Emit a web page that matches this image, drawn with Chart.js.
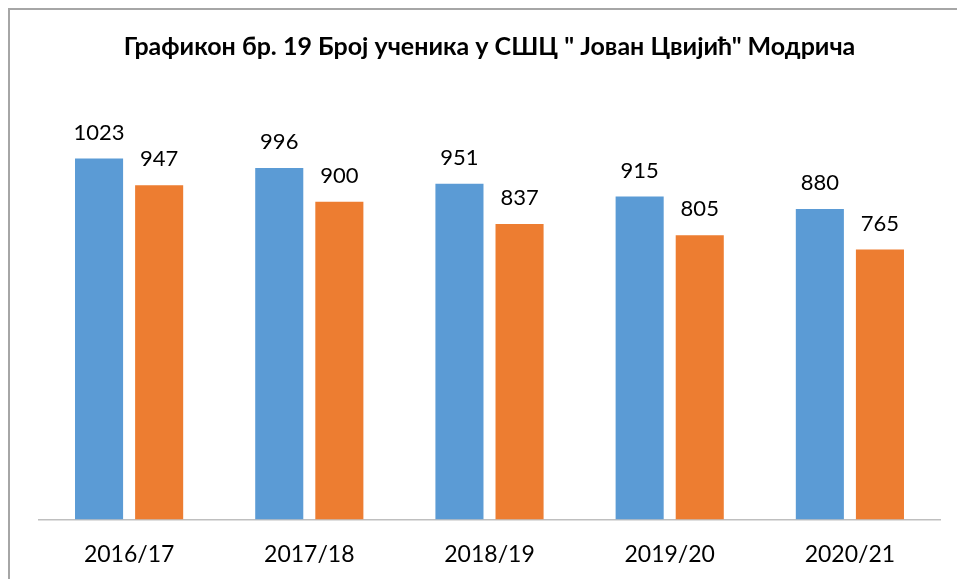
<!DOCTYPE html>
<html>
<head>
<meta charset="utf-8">
<script src="https://cdn.jsdelivr.net/npm/chart.js@4.4.0/dist/chart.umd.min.js"></script>
<style>
  html, body { margin: 0; padding: 0; background: #fff; overflow: hidden; }
  #frame {
    position: absolute; left: 8px; top: 8px;
    width: 949px; height: 571px;
    border-left: 2px solid #a6a6a6;
    border-top: 2px solid #a6a6a6;
    overflow: hidden;
  }
  #chart { display: block; }
</style>
</head>
<body>
<div id="frame"><canvas id="chart" width="947" height="594"></canvas></div>
<script>
// Chart data
const years = ['2016/17', '2017/18', '2018/19', '2019/20', '2020/21'];
const seriesA = [1023, 996, 951, 915, 880];
const seriesB = [947, 900, 837, 805, 765];
const chartTitle = 'Графикон бр. 19 Број ученика у СШЦ " Јован Цвијић" Модрича';

// Draw the value above each bar
const valueLabels = {
  id: 'valueLabels',
  afterDatasetsDraw(chart) {
    const ctx = chart.ctx;
    ctx.save();
    ctx.font = '22px Lato, "Open Sans", sans-serif';
    ctx.fillStyle = '#000000';
    ctx.textAlign = 'center';
    ctx.textBaseline = 'middle';
    chart.data.datasets.forEach((ds, i) => {
      chart.getDatasetMeta(i).data.forEach((bar, j) => {
        ctx.fillText(ds.data[j], bar.x, bar.y - 26);
      });
    });
    ctx.restore();
  }
};

new Chart(document.getElementById('chart'), {
  type: 'bar',
  data: {
    labels: years,
    datasets: [
      {
        label: 'A',
        data: seriesA,
        backgroundColor: '#5b9bd5',
        categoryPercentage: 0.667,
        barPercentage: 0.8
      },
      {
        label: 'B',
        data: seriesB,
        backgroundColor: '#ed7d31',
        categoryPercentage: 0.667,
        barPercentage: 0.8
      }
    ]
  },
  options: {
    responsive: false,
    animation: false,
    layout: {
      padding: { left: 29, right: 17, top: 0, bottom: 15 }
    },
    plugins: {
      legend: { display: false },
      tooltip: { enabled: false },
      title: {
        display: true,
        text: chartTitle,
        color: '#000000',
        font: { family: 'Lato, "Open Sans", sans-serif', size: 25, weight: 'bold' },
        padding: { top: 22, bottom: 34 }
      }
    },
    scales: {
      x: {
        grid: { display: false, drawTicks: false },
        border: { display: true, color: '#bfbfbf', width: 1.5 },
        ticks: {
          color: '#000000',
          padding: 21,
          font: { family: 'Lato, "Open Sans", sans-serif', size: 23 }
        }
      },
      y: {
        display: false,
        min: 0,
        max: 1200
      }
    }
  },
  plugins: [valueLabels]
});
</script>
</body>
</html>
